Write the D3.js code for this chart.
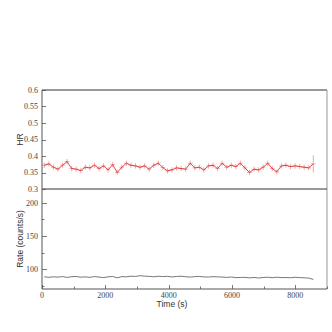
<!DOCTYPE html>
<html lang="en">

<head>
    <meta charset="UTF-8">
    <title>HR and rate light curve</title>
    <style>
        body {
            margin: 0;
            background: #fff;
        }

        .tick-label {
            font-family: "Liberation Serif", serif;
            font-size: 8px;
            fill: #444;
        }

        .axis-title {
            font-family: "Liberation Sans", sans-serif;
            font-size: 8.5px;
            fill: #333;
        }
    </style>
</head>

<body>
    <svg width="332" height="332"></svg>
    <script src="https://d3js.org/d3.v7.min.js"></script>

    <script>
        // bin centres (s), bin half width 72 s
        const binHalf = 72;
        const times = d3.range(60).map(i => 72 + i * 144);

        // hardness ratio per bin
        const hrValues = [
            0.372, 0.376, 0.366, 0.360, 0.372, 0.383, 0.362, 0.360, 0.356, 0.366,
            0.364, 0.372, 0.362, 0.370, 0.358, 0.374, 0.350, 0.366, 0.378, 0.372,
            0.370, 0.366, 0.370, 0.360, 0.372, 0.378, 0.365, 0.355, 0.358, 0.364,
            0.362, 0.360, 0.378, 0.364, 0.366, 0.358, 0.370, 0.372, 0.362, 0.378,
            0.366, 0.372, 0.368, 0.378, 0.364, 0.350, 0.360, 0.358, 0.366, 0.378,
            0.362, 0.352, 0.370, 0.372, 0.368, 0.370, 0.368, 0.366, 0.364, 0.376
        ];
        const hrErrors = [
            0.008, 0.008, 0.008, 0.008, 0.008, 0.008, 0.008, 0.008, 0.008, 0.008,
            0.008, 0.008, 0.008, 0.008, 0.008, 0.008, 0.008, 0.008, 0.008, 0.008,
            0.008, 0.008, 0.008, 0.008, 0.008, 0.008, 0.008, 0.008, 0.008, 0.008,
            0.008, 0.008, 0.008, 0.008, 0.008, 0.008, 0.008, 0.008, 0.008, 0.008,
            0.008, 0.008, 0.008, 0.008, 0.008, 0.008, 0.008, 0.008, 0.008, 0.008,
            0.008, 0.008, 0.008, 0.008, 0.008, 0.008, 0.008, 0.008, 0.008, 0.026
        ];

        // count rate per bin (counts/s)
        const rateValues = [
            88.5, 87.6, 88.4, 87.9, 88.8, 87.5, 88.6, 88.9, 87.8, 88.3,
            87.6, 88.8, 88.0, 87.2, 88.4, 88.9, 86.9, 88.7, 88.4, 89.3,
            89.0, 90.1, 89.4, 89.1, 88.4, 89.2, 88.8, 89.1, 88.2, 88.9,
            89.3, 88.5, 88.0, 88.7, 89.0, 88.2, 88.1, 88.6, 88.3, 88.1,
            87.5, 88.1, 87.2, 87.4, 87.6, 86.8, 87.5, 86.6, 87.4, 87.8,
            87.1, 87.8, 87.2, 87.3, 87.0, 87.7, 87.2, 86.9, 86.4, 84.5
        ];

        const hrTicks = [0.3, 0.35, 0.4, 0.45, 0.5, 0.55, 0.6];
        const rateTicks = [100, 150, 200];
        const rateMinor = [75, 125, 175];
        const timeTicks = [0, 2000, 4000, 6000, 8000];
        const timeMinor = [1000, 3000, 5000, 7000, 9000];

        const svg = d3.select("svg");

        const left = 42, right = 327;
        const hrTop = 90, split = 189, rateBottom = 289;

        const x = d3.scaleLinear().domain([0, 9000]).range([left, right]);
        const yHr = d3.scaleLinear().domain([0.3, 0.6]).range([split, hrTop]);
        const yRate = d3.scaleLinear().domain([70, 221]).range([rateBottom, split]);

        const hrData = times.map((t, i) => ({ t, v: hrValues[i], e: hrErrors[i] }));
        const rateData = times.map((t, i) => ({ t, v: rateValues[i] }));

        // HR 误差棒
        const hr = svg.append("g");
        hr.selectAll(".ey").data(hrData).join("line")
            .attr("x1", d => x(d.t)).attr("x2", d => x(d.t))
            .attr("y1", d => yHr(d.v - d.e)).attr("y2", d => yHr(d.v + d.e))
            .attr("stroke", "#f09090").attr("stroke-width", 0.8);
        hr.selectAll(".ex").data(hrData).join("line")
            .attr("x1", d => x(d.t - binHalf)).attr("x2", d => x(d.t + binHalf))
            .attr("y1", d => yHr(d.v)).attr("y2", d => yHr(d.v))
            .attr("stroke", "#f09090").attr("stroke-width", 0.8);
        hr.append("path").datum(hrData)
            .attr("fill", "none")
            .attr("stroke", "#d92020")
            .attr("stroke-width", 0.8)
            .attr("d", d3.line().x(d => x(d.t)).y(d => yHr(d.v)));

        // rate 曲线
        svg.append("path").datum(rateData)
            .attr("fill", "none")
            .attr("stroke", "#555")
            .attr("stroke-width", 0.8)
            .attr("d", d3.line().x(d => x(d.t)).y(d => yRate(d.v)));

        // frame
        const frame = (x1, y1, x2, y2, c) => svg.append("line")
            .attr("x1", x1).attr("y1", y1).attr("x2", x2).attr("y2", y2)
            .attr("stroke", c).attr("stroke-width", 1);
        frame(left, hrTop, right, hrTop, "#333");
        frame(right, hrTop, right, rateBottom, "#999");
        frame(left, split, right, split, "#333");
        frame(left, rateBottom, right, rateBottom, "#555");
        frame(left, hrTop, left, rateBottom, "#555");

        // y ticks (inward)
        const yTicks = (ticks, y, len, labels) => {
            svg.append("g").selectAll("line").data(ticks).join("line")
                .attr("x1", left).attr("x2", left + len)
                .attr("y1", d => Math.round(y(d)) + 0.5).attr("y2", d => Math.round(y(d)) + 0.5)
                .attr("stroke", "#555").attr("stroke-width", 0.8);
            if (labels) {
                svg.append("g").selectAll("text").data(ticks).join("text")
                    .attr("class", "tick-label")
                    .attr("x", left - 4)
                    .attr("y", d => y(d))
                    .attr("dy", "0.33em")
                    .attr("text-anchor", "end")
                    .text(labels);
            }
        };
        yTicks(hrTicks, yHr, 4, d => d3.format("")(d));
        yTicks(rateTicks, yRate, 5, d => d);
        yTicks(rateMinor, yRate, 2.5, null);

        // x ticks (inward)
        svg.append("g").selectAll("line").data(timeTicks.concat(timeMinor)).join("line")
            .attr("x1", d => Math.round(x(d)) + 0.5).attr("x2", d => Math.round(x(d)) + 0.5)
            .attr("y1", rateBottom)
            .attr("y2", d => rateBottom - (timeTicks.includes(d) ? 4 : 2.5))
            .attr("stroke", "#555").attr("stroke-width", 0.8);
        svg.append("g").selectAll("text").data(timeTicks).join("text")
            .attr("class", "tick-label")
            .attr("x", d => x(d))
            .attr("y", rateBottom + 9)
            .attr("text-anchor", "middle")
            .text(d => d);

        // axis titles
        svg.append("text").attr("class", "axis-title")
            .attr("transform", `translate(23, ${(hrTop + split) / 2}) rotate(-90)`)
            .attr("text-anchor", "middle")
            .text("HR");
        svg.append("text").attr("class", "axis-title")
            .attr("transform", `translate(23, ${(split + rateBottom) / 2}) rotate(-90)`)
            .attr("text-anchor", "middle")
            .text("Rate (counts/s)");
        svg.append("text").attr("class", "axis-title")
            .attr("x", 172)
            .attr("y", rateBottom + 18)
            .attr("text-anchor", "middle")
            .text("Time (s)");
    </script>
</body>

</html>
